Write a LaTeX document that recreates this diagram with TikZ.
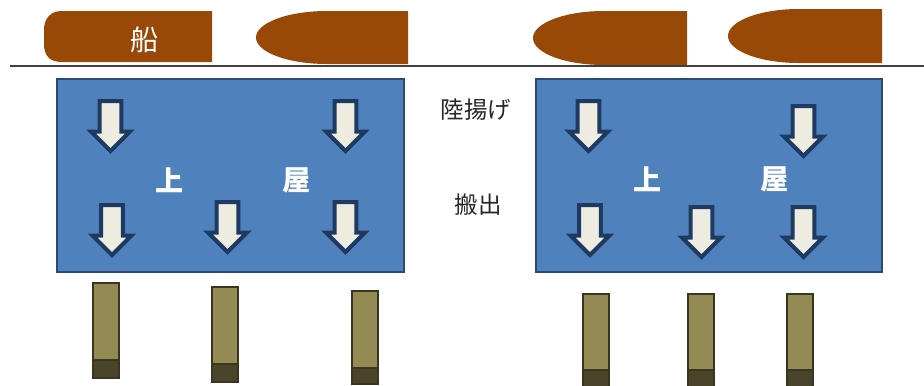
\documentclass[tikz,border=0pt]{standalone}
\usepackage{fontspec}
\newfontfamily\jpfont{Noto Sans CJK JP}
\usetikzlibrary{
  positioning,
  shapes.arrows
}
\definecolor{shipBrown}{HTML}{984807}
\definecolor{roofBlue}{HTML}{4F81BD}
\definecolor{roofLine}{HTML}{2C4A74}
\definecolor{arrNavy}{HTML}{1F3A60}
\definecolor{arrCream}{HTML}{EEECE1}
\definecolor{pileOlive}{HTML}{948A54}
\definecolor{pileDark}{HTML}{4A452A}
\definecolor{pileLine}{HTML}{3A3520}

\begin{document}
\begin{tikzpicture}[
  x=0.03cm, y=-0.03cm,
  ship/.style={fill=shipBrown, draw=none},
  roof/.style={fill=roofBlue, draw=roofLine, line width=0.045cm},
  downarr/.style={
    single arrow, shape border rotate=270, anchor=tail,
    draw=arrNavy, fill=arrCream, line width=0.12cm,
    minimum height=1.5cm, minimum width=1.17cm,
    inner sep=0.255cm, single arrow head indent=0pt
  },
  pile/.style={fill=pileOlive, draw=pileLine, line width=0.045cm},
  pilefoot/.style={fill=pileDark, draw=pileLine, line width=0.045cm},
  roofword/.style={font=\jpfont\bfseries\fontsize{24pt}{24pt}\selectfont, text=white},
  label/.style={font=\jpfont\fontsize{20pt}{20pt}\selectfont, text=black!85}
]
 \useasboundingbox (0,0) rectangle (924,385);
 \clip (0,0) rectangle (924,385);

 % Ships (left to right)
 \fill[ship] (212,11) -- (62,11) .. controls (50,11) and (44,19) .. (44,30)
   -- (44,44) .. controls (44,56) and (50,62) .. (62,62) -- (212,62) -- cycle;
 \node[font=\jpfont\fontsize{24pt}{24pt}\selectfont, text=white] (ship1) at (145,40) {船};
 \fill[ship] (408,11) -- (327,11) arc[start angle=270, end angle=90, x radius=71, y radius=26.5] -- (408,64) -- cycle;
 \fill[ship] (687,11) -- (604,11) arc[start angle=270, end angle=90, x radius=71, y radius=27] -- (687,65) -- cycle;
 \fill[ship] (882,9) -- (799,9) arc[start angle=270, end angle=90, x radius=71, y radius=27] -- (882,63) -- cycle;

 % Quay line
 \draw[line width=0.045cm, black!75] (10,66) -- (924,66);

 % Roof 1 (left)
 \draw[roof] (57,79) rectangle (404,272);
 \node[roofword] (r1a) at (170,180) {上};
 \node[roofword] (r1b) at (297,180) {屋};
 \node[downarr] (d11) at (110.5,99) {};
 \node[downarr] (d12) at (345.5,99) {};
 \node[downarr] (d13) at (112,203) {};
 \node[downarr] (d14) at (227.5,200) {};
 \node[downarr] (d15) at (345.5,200) {};

 % Roof 2 (right)
 \draw[roof] (536,79) rectangle (882,272);
 \node[roofword] (r2a) at (648,179) {上};
 \node[roofword] (r2b) at (775,179) {屋};
 \node[downarr] (d21) at (588.5,99) {};
 \node[downarr] (d22) at (803.5,104) {};
 \node[downarr] (d23) at (590,203) {};
 \node[downarr] (d24) at (701.5,205) {};
 \node[downarr] (d25) at (803.5,205) {};

 % Labels between roofs
 \node[label] (unload) at (476,110) {陸揚げ};
 \node[label] (carry)  at (478,205) {搬出};

 % Piles below roof 1
 \draw[pile] (93,283) rectangle (119,360);  \draw[pilefoot] (93,360) rectangle (119,378);
 \draw[pile] (212,287) rectangle (238,364); \draw[pilefoot] (212,364) rectangle (238,382);
 \draw[pile] (352,291) rectangle (378,368); \draw[pilefoot] (352,368) rectangle (378,384);

 % Piles below roof 2
 \draw[pile] (583,294) rectangle (609,370); \draw[pilefoot] (583,370) rectangle (609,392);
 \draw[pile] (688,294) rectangle (714,370); \draw[pilefoot] (688,370) rectangle (714,392);
 \draw[pile] (787,294) rectangle (813,370); \draw[pilefoot] (787,370) rectangle (813,392);
\end{tikzpicture}
\end{document}
